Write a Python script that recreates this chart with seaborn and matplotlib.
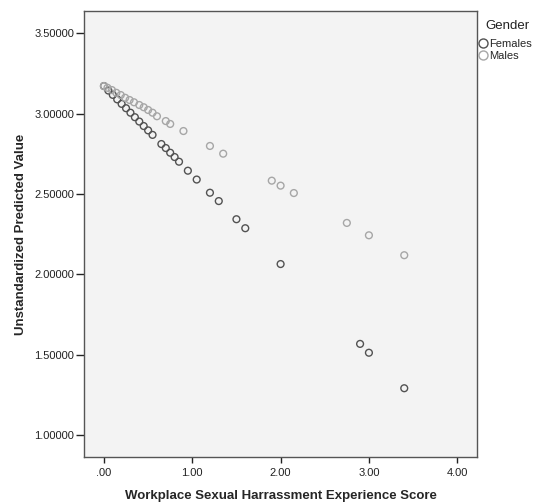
import pandas as pd
import seaborn as sns
import matplotlib.pyplot as plt
from matplotlib.lines import Line2D

# values
female_x = [0.00, 0.05, 0.10, 0.15, 0.20, 0.25, 0.30, 0.35, 0.40, 0.45, 0.50, 0.55,
            0.65, 0.70, 0.75, 0.80, 0.85, 0.95, 1.05, 1.20, 1.30, 1.50, 1.60,
            2.00, 2.90, 3.00, 3.40]
female_y = [3.172, 3.144, 3.117, 3.089, 3.061, 3.034, 3.006, 2.978, 2.951, 2.923, 2.896, 2.868,
            2.811, 2.786, 2.757, 2.730, 2.701, 2.645, 2.590, 2.508, 2.456, 2.343, 2.287,
            2.064, 1.567, 1.512, 1.291]
male_x = [0.00, 0.04, 0.09, 0.14, 0.19, 0.24, 0.29, 0.34, 0.40, 0.45, 0.50, 0.55,
          0.60, 0.70, 0.75, 0.90, 1.20, 1.35, 1.90, 2.00, 2.15, 2.75, 3.00, 3.40]
male_y = [3.172, 3.161, 3.147, 3.130, 3.116, 3.099, 3.085, 3.071, 3.054, 3.040, 3.023, 3.006,
          2.984, 2.954, 2.936, 2.892, 2.799, 2.751, 2.583, 2.552, 2.506, 2.320, 2.243, 2.119]

genders = ['Females', 'Males']
colors = {'Females': '#525252', 'Males': '#a6a6a6'}
x_ticks = [0, 1, 2, 3, 4]
y_ticks = [1.0, 1.5, 2.0, 2.5, 3.0, 3.5]

df = pd.DataFrame({
    'score': female_x + male_x,
    'pred': female_y + male_y,
    'Gender': ['Females'] * len(female_x) + ['Males'] * len(male_x),
})

sns.set_style('white')
plt.rcParams['font.family'] = ['Liberation Sans', 'DejaVu Sans']

fig = plt.figure(figsize=(5.34, 5.03), dpi=100)
ax = fig.add_axes([0.1573, 0.0905, 0.736, 0.8876])
ax.set_facecolor('#f3f3f3')

sns.scatterplot(data=df, x='score', y='pred', hue='Gender', hue_order=genders,
                palette=colors, s=24, linewidth=1.0, legend=False, ax=ax)

# hollow circles like SPSS
pts = ax.collections[0]
fc = pts.get_facecolors()
pts.set_edgecolors(fc)
pts.set_facecolors('none')

ax.set_xlim(-0.226, 4.224)
ax.set_ylim(0.860, 3.639)
ax.set_xticks(x_ticks)
ax.set_xticklabels(['.00', '1.00', '2.00', '3.00', '4.00'])
ax.set_yticks(y_ticks)
ax.set_yticklabels([f'{v:.5f}' for v in y_ticks])
ax.tick_params(axis='both', labelsize=8, colors='#222222', direction='out')
ax.tick_params(axis='y', length=6, width=1, pad=1)
ax.tick_params(axis='x', length=4.5, width=1, pad=3)
ax.tick_params(bottom=True, left=True, top=False, right=False)
for sp in ax.spines.values():
    sp.set_color('#555555')
    sp.set_linewidth(1)

ax.set_xlabel('Workplace Sexual Harrassment Experience Score', fontsize=9.5,
              fontweight='bold', labelpad=9)
ax.set_ylabel('Unstandardized Predicted Value', fontsize=9.5,
              fontweight='bold', labelpad=5)

# legend outside the plot, title drawn separately
fig.text(485 / 534, 1 - 26 / 503, 'Gender', fontsize=9.5, va='center', ha='left',
         color='#222222')
handles = [Line2D([], [], marker='o', linestyle='none', markerfacecolor='none',
                  markeredgecolor=colors[g], markersize=6.5, markeredgewidth=1.0)
           for g in genders]
ax.legend(handles, genders, loc='upper left',
          bbox_to_anchor=(479 / 534, 1 - 39 / 503), bbox_transform=fig.transFigure,
          frameon=False, fontsize=8, handletextpad=0.1, handlelength=0.8,
          labelspacing=0.15, borderaxespad=0, borderpad=0)

plt.savefig('out.png', dpi=100)
